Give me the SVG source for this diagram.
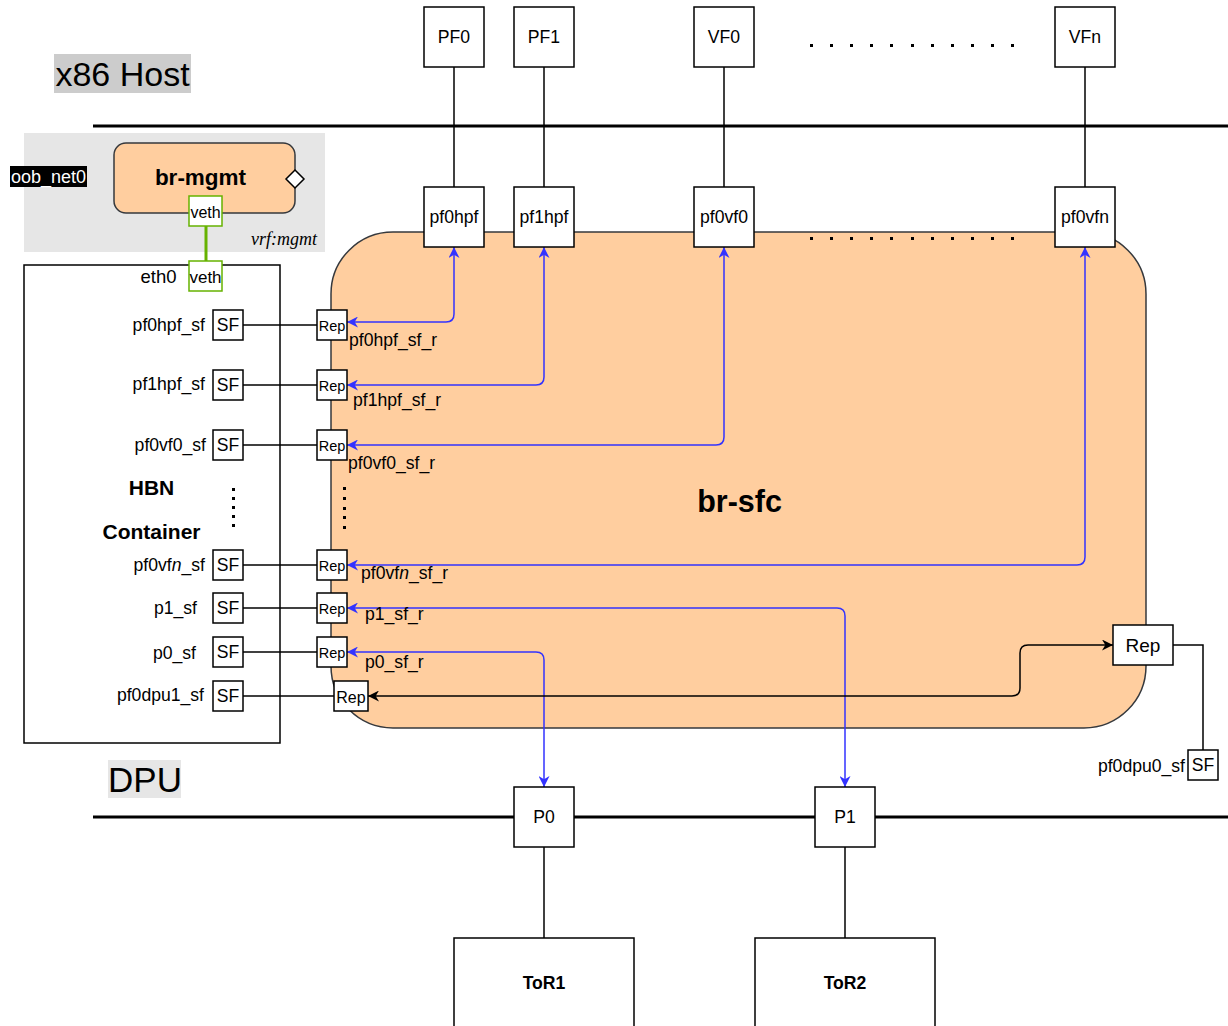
<svg xmlns="http://www.w3.org/2000/svg" width="1228" height="1026" viewBox="0 0 1228 1026">
<defs>
<style>
text{font-family:"Liberation Sans",Arial,sans-serif;fill:#000}
.box{fill:#fff;stroke:#000;stroke-width:1.5}
.t16{font-size:17.6px}
.mid{text-anchor:middle;dominant-baseline:central}
.end{text-anchor:end;dominant-baseline:central}
.st{dominant-baseline:central}
.ln{fill:none;stroke:#000;stroke-width:1.5}
.bus{fill:none;stroke:#000;stroke-width:3}
.blue{fill:none;stroke:#3333FF;stroke-width:1.5;marker-start:url(#ab);marker-end:url(#ab)}
.blk{fill:none;stroke:#000;stroke-width:1.5;marker-start:url(#ak);marker-end:url(#ak)}
.veth{fill:#fff;stroke:#66B200;stroke-width:1.5}
.rep{font-size:14.5px}
.dot{fill:#000}
</style>
<marker id="ab" viewBox="0 0 10 10" refX="10" refY="5" markerWidth="11" markerHeight="11" markerUnits="userSpaceOnUse" orient="auto-start-reverse"><path d="M0,0 L10,5 L0,10 L3,5 z" fill="#3333FF"/></marker>
<marker id="ak" viewBox="0 0 10 10" refX="10" refY="5" markerWidth="11" markerHeight="11" markerUnits="userSpaceOnUse" orient="auto-start-reverse"><path d="M0,0 L10,5 L0,10 L3,5 z" fill="#000"/></marker>
</defs>
<rect width="1228" height="1026" fill="#fff"/>

<!-- section labels -->
<g id="x86host"><rect x="54" y="54" width="137" height="39" fill="#CCCCCC"/><text x="122.500" y="74" class="mid" font-size="34">x86 Host</text></g>
<g id="dpu"><rect x="108" y="760" width="73" height="38" fill="#E6E6E6"/><text x="145" y="779" class="mid" font-size="35">DPU</text></g>

<!-- buses -->
<g id="buses">
<line x1="93" y1="126" x2="1228" y2="126" class="bus"/>
<line x1="93" y1="817" x2="1228" y2="817" class="bus"/>
</g>

<!-- mgmt vrf -->
<g id="vrf-mgmt">
<rect x="24" y="133" width="301" height="119" fill="#E6E6E6"/>
<text x="317" y="245" text-anchor="end" font-style="italic" font-size="18" style="font-family:'Liberation Serif',serif">vrf:mgmt</text>
</g>
<g id="oob_net0"><rect x="10" y="166" width="77" height="21" fill="#000"/><text x="48.500" y="177" class="mid" font-size="18" style="fill:#fff">oob_net0</text></g>
<g id="br-mgmt">
<rect x="114" y="143" width="181" height="70" rx="12" fill="#FFCE9F" stroke="#36393d" stroke-width="1.5"/>
<text x="200.500" y="177" class="mid" font-size="22.5" font-weight="bold">br-mgmt</text>
<path d="M295,170 L304,179 L295,188 L286,179 z" fill="#fff" stroke="#000" stroke-width="1.5"/>
</g>

<!-- br-sfc -->
<g id="br-sfc">
<rect x="331" y="232" width="815" height="496" rx="62" fill="#FFCE9F" stroke="#36393d" stroke-width="1.5"/>
<text x="739.500" y="501" class="mid" font-size="30.5" font-weight="bold">br-sfc</text>
</g>

<!-- HBN container -->
<g id="hbn">
<rect x="24" y="265" width="256" height="478" fill="#fff" stroke="#000" stroke-width="1.5"/>
<text x="151.500" y="487" class="mid" font-size="21" font-weight="bold">HBN</text>
<text x="151.500" y="531" class="mid" font-size="21" font-weight="bold">Container</text>
<text x="158.500" y="276" class="mid" font-size="18.5">eth0</text>
</g>

<!-- dots -->
<g id="dots">
<g class="dot">
<rect x="810" y="44" width="3" height="3"/><rect x="830" y="44" width="3" height="3"/><rect x="850" y="44" width="3" height="3"/><rect x="870" y="44" width="3" height="3"/><rect x="890" y="44" width="3" height="3"/><rect x="911" y="44" width="3" height="3"/><rect x="931" y="44" width="3" height="3"/><rect x="951" y="44" width="3" height="3"/><rect x="971" y="44" width="3" height="3"/><rect x="991" y="44" width="3" height="3"/><rect x="1011" y="44" width="3" height="3"/>
<rect x="810" y="237" width="3" height="3"/><rect x="830" y="237" width="3" height="3"/><rect x="850" y="237" width="3" height="3"/><rect x="870" y="237" width="3" height="3"/><rect x="890" y="237" width="3" height="3"/><rect x="911" y="237" width="3" height="3"/><rect x="931" y="237" width="3" height="3"/><rect x="951" y="237" width="3" height="3"/><rect x="971" y="237" width="3" height="3"/><rect x="991" y="237" width="3" height="3"/><rect x="1011" y="237" width="3" height="3"/>
<rect x="232" y="488" width="3" height="3"/><rect x="232" y="497" width="3" height="3"/><rect x="232" y="506" width="3" height="3"/><rect x="232" y="515" width="3" height="3"/><rect x="232" y="524" width="3" height="3"/>
<rect x="343" y="487" width="3" height="3"/><rect x="343" y="497" width="3" height="3"/><rect x="343" y="507" width="3" height="3"/><rect x="343" y="516" width="3" height="3"/><rect x="343" y="526" width="3" height="3"/>
</g>
</g>

<!-- connectors -->
<g id="connectors">
<line x1="454" y1="67" x2="454" y2="187" class="ln"/>
<line x1="544" y1="67" x2="544" y2="187" class="ln"/>
<line x1="724" y1="67" x2="724" y2="187" class="ln"/>
<line x1="1085" y1="67" x2="1085" y2="187" class="ln"/>
<line x1="206" y1="226" x2="206" y2="261" stroke="#66B200" stroke-width="3"/>
<line x1="243" y1="325" x2="317" y2="325" class="ln"/>
<line x1="243" y1="385" x2="317" y2="385" class="ln"/>
<line x1="243" y1="445" x2="317" y2="445" class="ln"/>
<line x1="243" y1="565" x2="317" y2="565" class="ln"/>
<line x1="243" y1="608" x2="317" y2="608" class="ln"/>
<line x1="243" y1="652" x2="317" y2="652" class="ln"/>
<line x1="243" y1="696" x2="334" y2="696" class="ln"/>
<path d="M1173,645 H1203 V750" class="ln"/>
<line x1="544" y1="847" x2="544" y2="938" class="ln"/>
<line x1="845" y1="847" x2="845" y2="938" class="ln"/>
<path d="M347,322 H446 Q454,322 454,314 V247" class="blue"/>
<path d="M347,385 H536 Q544,385 544,377 V247" class="blue"/>
<path d="M347,445 H716 Q724,445 724,437 V247" class="blue"/>
<path d="M347,565 H1077 Q1085,565 1085,557 V247" class="blue"/>
<path d="M347,608 H837 Q845,608 845,616 V787" class="blue"/>
<path d="M347,652 H536 Q544,652 544,660 V787" class="blue"/>
<path d="M368,696 H1012 Q1020,696 1020,688 V653 Q1020,645 1028,645 H1113" class="blk"/>
</g>

<!-- veth -->
<g id="veth-mgmt"><rect x="189" y="196" width="33" height="30" class="veth"/><text x="205.500" y="212" class="mid" font-size="16">veth</text></g>
<g id="veth-hbn"><rect x="189" y="261" width="33" height="30" class="veth"/><text x="205.500" y="277" class="mid" font-size="17">veth</text></g>

<!-- host functions -->
<g id="PF0"><rect x="424" y="7" width="60" height="60" class="box"/><text x="454" y="37" class="mid t16">PF0</text></g>
<g id="PF1"><rect x="514" y="7" width="60" height="60" class="box"/><text x="544" y="37" class="mid t16">PF1</text></g>
<g id="VF0"><rect x="694" y="7" width="60" height="60" class="box"/><text x="724" y="37" class="mid t16">VF0</text></g>
<g id="VFn"><rect x="1055" y="7" width="60" height="60" class="box"/><text x="1085" y="37" class="mid t16">VFn</text></g>

<g id="pf0hpf"><rect x="424" y="187" width="60" height="60" class="box"/><text x="454" y="217" class="mid t16">pf0hpf</text></g>
<g id="pf1hpf"><rect x="514" y="187" width="60" height="60" class="box"/><text x="544" y="217" class="mid t16">pf1hpf</text></g>
<g id="pf0vf0"><rect x="694" y="187" width="60" height="60" class="box"/><text x="724" y="217" class="mid t16">pf0vf0</text></g>
<g id="pf0vfn"><rect x="1055" y="187" width="60" height="60" class="box"/><text x="1085" y="217" class="mid t16">pf0vfn</text></g>

<!-- SFs -->
<g id="sf-pf0hpf"><rect x="213" y="310" width="30" height="30" class="box"/><text x="228" y="325" class="mid t16">SF</text><text x="205" y="325" class="end t16">pf0hpf_sf</text></g>
<g id="sf-pf1hpf"><rect x="213" y="370" width="30" height="30" class="box"/><text x="228" y="385" class="mid t16">SF</text><text x="205" y="384" class="end t16">pf1hpf_sf</text></g>
<g id="sf-pf0vf0"><rect x="213" y="430" width="30" height="30" class="box"/><text x="228" y="445" class="mid t16">SF</text><text x="206" y="445" class="end t16">pf0vf0_sf</text></g>
<g id="sf-pf0vfn"><rect x="213" y="550" width="30" height="30" class="box"/><text x="228" y="565" class="mid t16">SF</text><text x="205" y="565" class="end t16">pf0vf<tspan font-style="italic">n</tspan>_sf</text></g>
<g id="sf-p1"><rect x="213" y="593" width="30" height="30" class="box"/><text x="228" y="608" class="mid t16">SF</text><text x="197" y="608" class="end t16">p1_sf</text></g>
<g id="sf-p0"><rect x="213" y="637" width="30" height="30" class="box"/><text x="228" y="652" class="mid t16">SF</text><text x="196" y="653" class="end t16">p0_sf</text></g>
<g id="sf-pf0dpu1"><rect x="213" y="681" width="30" height="30" class="box"/><text x="228" y="696" class="mid t16">SF</text><text x="204" y="695" class="end t16">pf0dpu1_sf</text></g>
<g id="sf-pf0dpu0"><rect x="1188" y="750" width="30" height="30" class="box"/><text x="1203" y="765" class="mid t16">SF</text><text x="1185" y="766" class="end t16">pf0dpu0_sf</text></g>

<!-- Reps -->
<g id="rep-pf0hpf"><rect x="317" y="310" width="30" height="30" class="box"/><text x="332" y="326" class="mid rep">Rep</text><text x="349" y="340" class="st t16">pf0hpf_sf_r</text></g>
<g id="rep-pf1hpf"><rect x="317" y="370" width="30" height="30" class="box"/><text x="332" y="386" class="mid rep">Rep</text><text x="353" y="400" class="st t16">pf1hpf_sf_r</text></g>
<g id="rep-pf0vf0"><rect x="317" y="430" width="30" height="30" class="box"/><text x="332" y="446" class="mid rep">Rep</text><text x="348" y="463" class="st t16">pf0vf0_sf_r</text></g>
<g id="rep-pf0vfn"><rect x="317" y="550" width="30" height="30" class="box"/><text x="332" y="566" class="mid rep">Rep</text><text x="361" y="573" class="st t16">pf0vf<tspan font-style="italic">n</tspan>_sf_r</text></g>
<g id="rep-p1"><rect x="317" y="593" width="30" height="30" class="box"/><text x="332" y="609" class="mid rep">Rep</text><text x="365" y="614" class="st t16">p1_sf_r</text></g>
<g id="rep-p0"><rect x="317" y="637" width="30" height="30" class="box"/><text x="332" y="653" class="mid rep">Rep</text><text x="365" y="662" class="st t16">p0_sf_r</text></g>
<g id="rep-pf0dpu1"><rect x="334" y="681" width="34" height="30" class="box"/><text x="351" y="697" class="mid" font-size="16">Rep</text></g>
<g id="rep-pf0dpu0"><rect x="1113" y="625" width="60" height="40" class="box"/><text x="1143" y="645" class="mid" font-size="19">Rep</text></g>

<!-- ports -->
<g id="P0"><rect x="514" y="787" width="60" height="60" class="box"/><text x="544" y="817" class="mid t16">P0</text></g>
<g id="P1"><rect x="815" y="787" width="60" height="60" class="box"/><text x="845" y="817" class="mid t16">P1</text></g>

<!-- ToRs -->
<g id="ToR1"><rect x="454" y="938" width="180" height="100" class="box"/><text x="544" y="983" class="mid t16" font-weight="bold">ToR1</text></g>
<g id="ToR2"><rect x="755" y="938" width="180" height="100" class="box"/><text x="845" y="983" class="mid t16" font-weight="bold">ToR2</text></g>
</svg>
